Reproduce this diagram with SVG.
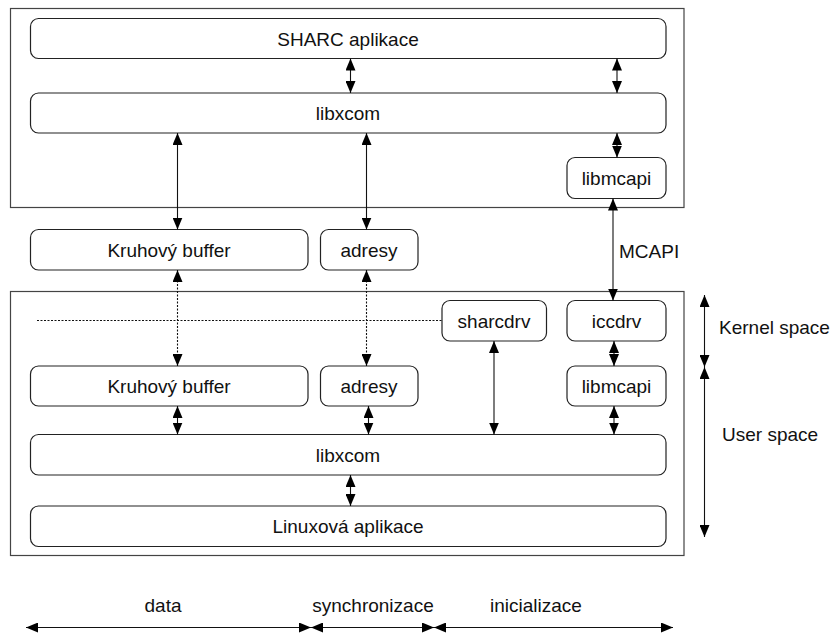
<svg xmlns="http://www.w3.org/2000/svg" width="833" height="635" viewBox="0 0 833 635">
  <style>
    .frame { fill: none; stroke: #444; stroke-width: 1.2; }
    .node rect { fill: #fff; stroke: #222; stroke-width: 1.2; }
    text { font-family: "Liberation Sans", Arial, sans-serif; font-size: 19px; fill: #111; text-anchor: middle; }
    .side { text-anchor: start; }
    .link { fill: none; stroke: #111; stroke-width: 1.1; }
    .dotted { stroke-dasharray: 2 1.5; }
    .both { marker-start: url(#head); marker-end: url(#head); }
  </style>
  <defs>
    <marker id="head" markerUnits="userSpaceOnUse" markerWidth="12" markerHeight="10" refX="12" refY="5" orient="auto-start-reverse">
      <path d="M0,0 L12,5 L0,10 z" fill="#000"/>
    </marker>
  </defs>

  <rect width="833" height="635" fill="#fff"/>

  <!-- SHARC side -->
  <rect class="frame" x="10.5" y="8.5" width="673.5" height="199"/>
  <!-- Linux side -->
  <rect class="frame" x="10.5" y="291.5" width="673.5" height="264"/>

  <g id="sharc-app" class="node">
    <rect x="30.5" y="18.5" width="635.5" height="40" rx="8"/>
    <text x="348" y="45.5">SHARC aplikace</text>
  </g>
  <g id="sharc-libxcom" class="node">
    <rect x="30.5" y="93" width="635.5" height="40" rx="8"/>
    <text x="348" y="120">libxcom</text>
  </g>
  <g id="sharc-libmcapi" class="node">
    <rect x="567" y="157.5" width="99" height="41" rx="8"/>
    <text x="616.5" y="185">libmcapi</text>
  </g>
  <g id="shared-buffer" class="node">
    <rect x="30.5" y="229.5" width="277.5" height="40.5" rx="8"/>
    <text x="169" y="256.5">Kruhový buffer</text>
  </g>
  <g id="shared-addr" class="node">
    <rect x="320.5" y="229.5" width="97.5" height="40.5" rx="8"/>
    <text x="369" y="256.5">adresy</text>
  </g>
  <g id="sharcdrv" class="node">
    <rect x="442" y="300.5" width="104.5" height="40.5" rx="8"/>
    <text x="494" y="327.5">sharcdrv</text>
  </g>
  <g id="iccdrv" class="node">
    <rect x="567" y="300.5" width="99" height="40.5" rx="8"/>
    <text x="616.5" y="327.5">iccdrv</text>
  </g>
  <g id="linux-buffer" class="node">
    <rect x="30.5" y="366" width="277.5" height="40" rx="8"/>
    <text x="169" y="392.5">Kruhový buffer</text>
  </g>
  <g id="linux-addr" class="node">
    <rect x="320.5" y="366" width="97.5" height="40" rx="8"/>
    <text x="369" y="392.5">adresy</text>
  </g>
  <g id="linux-libmcapi" class="node">
    <rect x="567" y="366" width="99" height="40" rx="8"/>
    <text x="616.5" y="392.5">libmcapi</text>
  </g>
  <g id="linux-libxcom" class="node">
    <rect x="30.5" y="434.5" width="635.5" height="40.5" rx="8"/>
    <text x="348" y="461.5">libxcom</text>
  </g>
  <g id="linux-app" class="node">
    <rect x="30.5" y="506" width="635.5" height="40.5" rx="8"/>
    <text x="348" y="533">Linuxová aplikace</text>
  </g>

  <g id="connectors">
    <!-- SHARC stack -->
    <line class="link both" x1="350.5" y1="58.5" x2="350.5" y2="93"/>
    <line class="link both" x1="617" y1="58.5" x2="617" y2="93"/>
    <line class="link both" x1="617" y1="133" x2="617" y2="157.5"/>
    <line class="link both" x1="177.5" y1="133" x2="177.5" y2="229.5"/>
    <line class="link both" x1="366.5" y1="133" x2="366.5" y2="229.5"/>
    <!-- MCAPI channel -->
    <line class="link both" x1="613" y1="198.5" x2="613" y2="300.5"/>
    <!-- shared memory mapping -->
    <line class="link dotted both" x1="177.5" y1="270" x2="177.5" y2="366"/>
    <line class="link dotted both" x1="366.5" y1="270" x2="366.5" y2="366"/>
    <line class="link dotted" x1="37" y1="320.5" x2="442" y2="320.5"/>
    <!-- Linux stack -->
    <line class="link both" x1="614" y1="341" x2="614" y2="366"/>
    <line class="link both" x1="494" y1="341" x2="494" y2="434.5"/>
    <line class="link both" x1="177.5" y1="406" x2="177.5" y2="434.5"/>
    <line class="link both" x1="368.5" y1="406" x2="368.5" y2="434.5"/>
    <line class="link both" x1="614" y1="406" x2="614" y2="434.5"/>
    <line class="link both" x1="350.5" y1="475" x2="350.5" y2="506"/>
    <!-- kernel / user space spans -->
    <line class="link both" x1="704.5" y1="295" x2="704.5" y2="367"/>
    <line class="link both" x1="704.5" y1="367" x2="704.5" y2="537"/>
    <!-- bottom spans -->
    <line class="link both" x1="26" y1="627.5" x2="311" y2="627.5"/>
    <line class="link both" x1="311" y1="627.5" x2="434" y2="627.5"/>
    <line class="link both" x1="434" y1="627.5" x2="673" y2="627.5"/>
  </g>

  <text class="side" x="619" y="258">MCAPI</text>
  <text class="side" x="719" y="334">Kernel space</text>
  <text class="side" x="722" y="441">User space</text>
  <text x="163" y="612">data</text>
  <text x="373" y="612">synchronizace</text>
  <text x="536" y="612">inicializace</text>
</svg>
